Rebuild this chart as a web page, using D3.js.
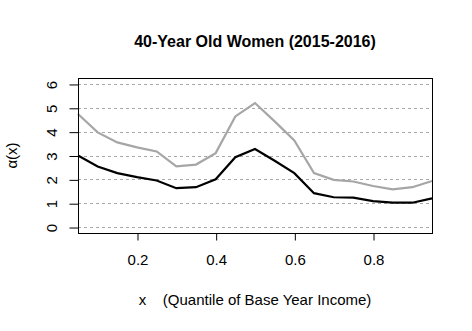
<!DOCTYPE html>
<html>
<head>
<meta charset="utf-8">
<script src="https://cdn.jsdelivr.net/npm/d3@7"></script>
<style>
  body { margin: 0; background: #fff; }
  text { font-family: "Liberation Sans", Arial, sans-serif; }
</style>
</head>
<body>
<svg id="chart" width="472" height="331"></svg>
<script>
// data
var QUANTILES = [0.05, 0.10, 0.15, 0.20, 0.25, 0.30, 0.35, 0.40, 0.45, 0.50,
                 0.55, 0.60, 0.65, 0.70, 0.75, 0.80, 0.85, 0.90, 0.95];
var BLACK_SERIES = [3.00, 2.54, 2.26, 2.09, 1.95, 1.63, 1.67, 2.00, 2.93, 3.27,
                    2.78, 2.26, 1.42, 1.25, 1.23, 1.09, 1.02, 1.02, 1.20];
var GRAY_SERIES = [4.74, 3.97, 3.55, 3.34, 3.17, 2.54, 2.62, 3.10, 4.64, 5.20,
                   4.43, 3.63, 2.26, 1.98, 1.91, 1.72, 1.58, 1.67, 1.93];
var X_TICKS = [0.2, 0.4, 0.6, 0.8];
var Y_TICKS = [0, 1, 2, 3, 4, 5, 6];
var TITLE = "40-Year Old Women (2015-2016)";

var PLOT = { left: 78, right: 432, top: 78, bottom: 233 };

function drawChart() {
    var svg = d3.select("#chart");

    var xScale = d3.scaleLinear()
        .domain([0.05, 0.95])
        .range([PLOT.left, PLOT.right]);

    var yScale = d3.scaleLinear()
        .domain([-0.25, 6.25])
        .range([PLOT.bottom, PLOT.top]);

    // dashed grid
    svg.append("g")
        .selectAll("line")
        .data(Y_TICKS)
        .join("line")
        .attr("x1", PLOT.left)
        .attr("x2", PLOT.right)
        .attr("y1", d => Math.round(yScale(d)) + 0.5)
        .attr("y2", d => Math.round(yScale(d)) + 0.5)
        .attr("stroke", "#a9a9a9")
        .attr("stroke-dasharray", "3,3");

    var line = d3.line()
        .x((d, i) => xScale(QUANTILES[i]))
        .y(d => yScale(d));

    svg.append("path")
        .datum(GRAY_SERIES)
        .attr("fill", "none")
        .attr("stroke", "#a6a6a6")
        .attr("stroke-width", 2.2)
        .attr("d", line);

    svg.append("path")
        .datum(BLACK_SERIES)
        .attr("fill", "none")
        .attr("stroke", "#000")
        .attr("stroke-width", 2.2)
        .attr("d", line);

    // box
    svg.append("rect")
        .attr("x", PLOT.left + 0.5)
        .attr("y", PLOT.top + 0.5)
        .attr("width", PLOT.right - PLOT.left)
        .attr("height", PLOT.bottom - PLOT.top)
        .attr("fill", "none")
        .attr("stroke", "#000");

    // x axis
    var xAxis = svg.append("g")
        .attr("transform", `translate(0.5, ${PLOT.bottom + 0.5})`)
        .call(d3.axisBottom(xScale).tickValues(X_TICKS).tickSize(7).tickPadding(14)
            .tickFormat(d3.format(".1f")));
    xAxis.select(".domain").remove();
    xAxis.selectAll("text")
        .attr("font-family", "Liberation Sans, Arial, sans-serif")
        .attr("font-size", 15)
        .attr("fill", "#000");

    // y axis, labels parallel to axis
    var yAxis = svg.append("g")
        .attr("transform", `translate(${PLOT.left + 0.5}, 0.5)`)
        .call(d3.axisLeft(yScale).tickValues(Y_TICKS).tickSize(9).tickPadding(0)
            .tickFormat(d3.format("d")));
    yAxis.select(".domain").remove();
    yAxis.selectAll(".tick line").attr("stroke", "#000");
    yAxis.selectAll("text")
        .attr("font-family", "Liberation Sans, Arial, sans-serif")
        .attr("font-size", 15)
        .attr("fill", "#000")
        .attr("x", null)
        .attr("dy", null)
        .attr("text-anchor", "middle")
        .attr("transform", "translate(-21.5, 0) rotate(-90)");

    svg.append("text")
        .attr("x", (PLOT.left + PLOT.right) / 2)
        .attr("y", 47)
        .attr("text-anchor", "middle")
        .attr("font-size", 16)
        .attr("font-weight", "bold")
        .text(TITLE);

    svg.append("text")
        .attr("x", (PLOT.left + PLOT.right) / 2)
        .attr("y", 305)
        .attr("text-anchor", "middle")
        .attr("font-size", 15)
        .attr("xml:space", "preserve")
        .text("x    (Quantile of Base Year Income)");

    svg.append("text")
        .attr("transform", `translate(17, ${(PLOT.top + PLOT.bottom) / 2}) rotate(-90)`)
        .attr("text-anchor", "middle")
        .attr("font-size", 15)
        .text("\u03b1(x)");
}

drawChart();
</script>
</body>
</html>
